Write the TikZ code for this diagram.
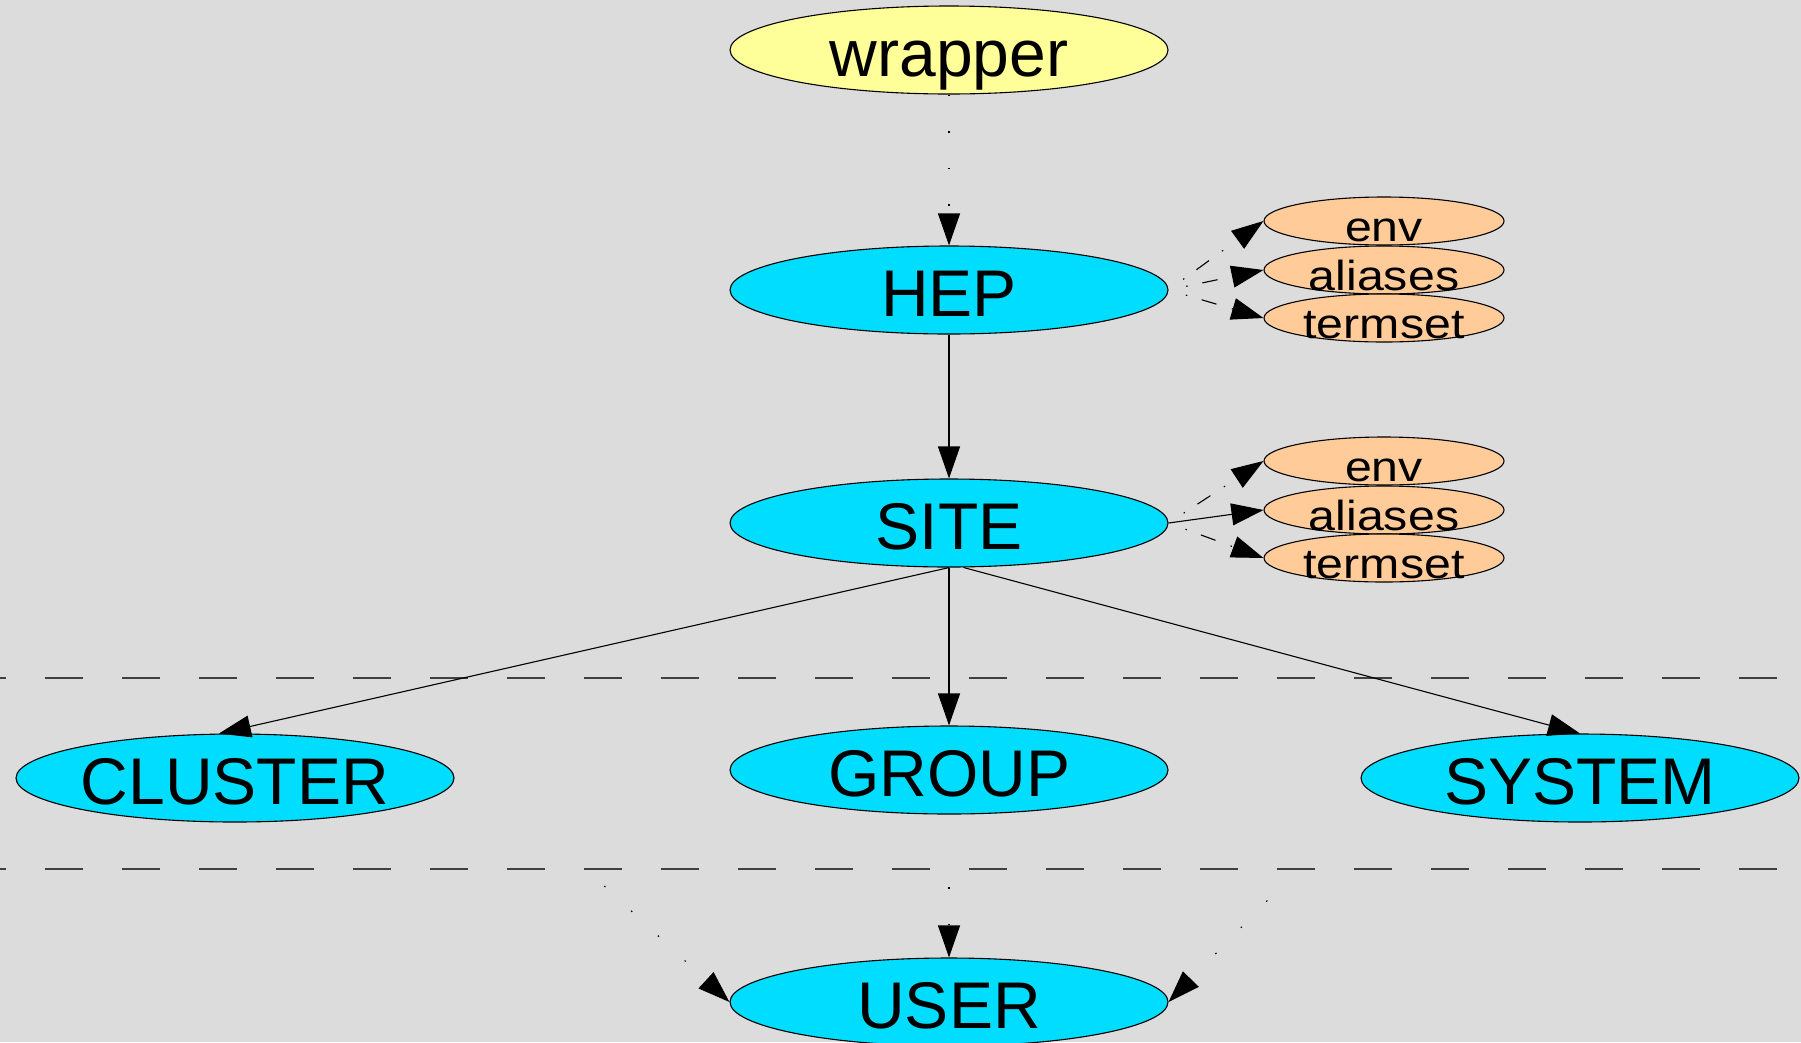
\documentclass[tikz,border=0pt]{standalone}
\usepackage{fontspec}
\setmainfont{Liberation Sans}
\newfontfamily\widef[FakeStretch=1.15]{Liberation Sans}
\usetikzlibrary{shapes.geometric,arrows.meta}
\definecolor{bgc}{RGB}{220,220,220}
\definecolor{cyanfill}{RGB}{0,221,255}
\definecolor{yellowfill}{RGB}{255,255,153}
\definecolor{peachfill}{RGB}{255,204,153}
\newcommand\lowtext[2]{\raisebox{-#1}[0pt][0pt]{#2}}
\begin{document}
\begin{tikzpicture}[x=1pt,y=-1pt,
  bignode/.style={ellipse, draw=black, line width=1.1pt, inner sep=0pt,
    minimum width=438pt, minimum height=88pt,
    font=\fontsize{66}{66}\selectfont, text height=0pt, text depth=0pt},
  cyannode/.style={bignode, fill=cyanfill},
  wrapnode/.style={bignode, fill=yellowfill},
  smallnode/.style={ellipse, draw=black, line width=1.1pt, inner sep=0pt,
    fill=peachfill, minimum width=240pt, minimum height=48pt,
    font=\widef\fontsize{42}{42}\selectfont, text height=0pt, text depth=0pt},
  link/.style={line width=1.1pt, -{Triangle[length=32pt,width=22pt]}},
  dotlink/.style={link, dash pattern=on 1.5pt off 35pt},
  dashlink/.style={link, dash pattern=on 0pt off 18pt on 1.5pt off 15pt on 15.5pt off 16pt on 1.5pt off 200pt},
  sepline/.style={line width=1.2pt, black!75, dash pattern=on 38pt off 39pt, dash phase=32pt}
]
\useasboundingbox (0,0) rectangle (1801,1042);
\fill[bgc] (0,0) rectangle (1801,1042);

% separator lines
\draw[sepline] (0,678) -- (1780,678);
\draw[sepline] (0,869) -- (1780,869);

% nodes
\node[wrapnode] (wrapper) at (949,50) {\lowtext{26pt}{wrapper}};
\node[cyannode] (HEP) at (949,290) {\lowtext{26pt}{HEP}};
\node[cyannode] (SITE) at (949,523) {\lowtext{26pt}{SITE}};
\node[cyannode] (CLUSTER) at (235,778) {\lowtext{26pt}{CLUSTER}};
\node[cyannode] (GROUP) at (949,770) {\lowtext{26pt}{GROUP}};
\node[cyannode] (SYSTEM) at (1580,778) {\lowtext{26pt}{SYSTEM}};
\node[cyannode] (USER) at (949,1002) {\lowtext{26pt}{USER}};

\node[smallnode] (env1) at (1384,221) {\lowtext{20pt}{env}};
\node[smallnode] (aliases1) at (1384,270) {\lowtext{20pt}{aliases}};
\node[smallnode] (termset1) at (1384,318) {\lowtext{20pt}{termset}};
\node[smallnode] (env2) at (1384,461) {\lowtext{20pt}{env}};
\node[smallnode] (aliases2) at (1384,510) {\lowtext{20pt}{aliases}};
\node[smallnode] (termset2) at (1384,558) {\lowtext{20pt}{termset}};

\coordinate (cl) at (586,869);
\coordinate (gr) at (949,869);
\coordinate (sy) at (1298,869);

% edges
\draw[dotlink] (wrapper.south) -- (HEP.north);
\draw[link] (HEP.south) -- (SITE.north);
\draw[dashlink] (HEP.east) -- (env1.west);
\draw[dashlink] (HEP.east) -- (aliases1.west);
\draw[dashlink] (HEP.east) -- (termset1.west);
\draw[dashlink] (SITE.east) -- (env2.west);
\draw[link] (SITE.east) -- (aliases2.west);
\draw[dashlink] (SITE.east) -- (termset2.west);
\draw[link] (SITE.south) -- (CLUSTER.110);
\draw[link] (SITE.south) -- (GROUP.north);
\draw[link] (SITE.-72) -- (SYSTEM.north);
\draw[dotlink, dash phase=11.5pt] (cl) -- (USER.west);
\draw[dotlink, dash phase=18.5pt] (gr) -- (USER.north);
\draw[link, dash pattern=on 0pt off 44pt on 1.5pt off 35pt on 1.5pt off 35pt on 1.5pt off 300pt] (sy) -- (USER.east);
\end{tikzpicture}
\end{document}
